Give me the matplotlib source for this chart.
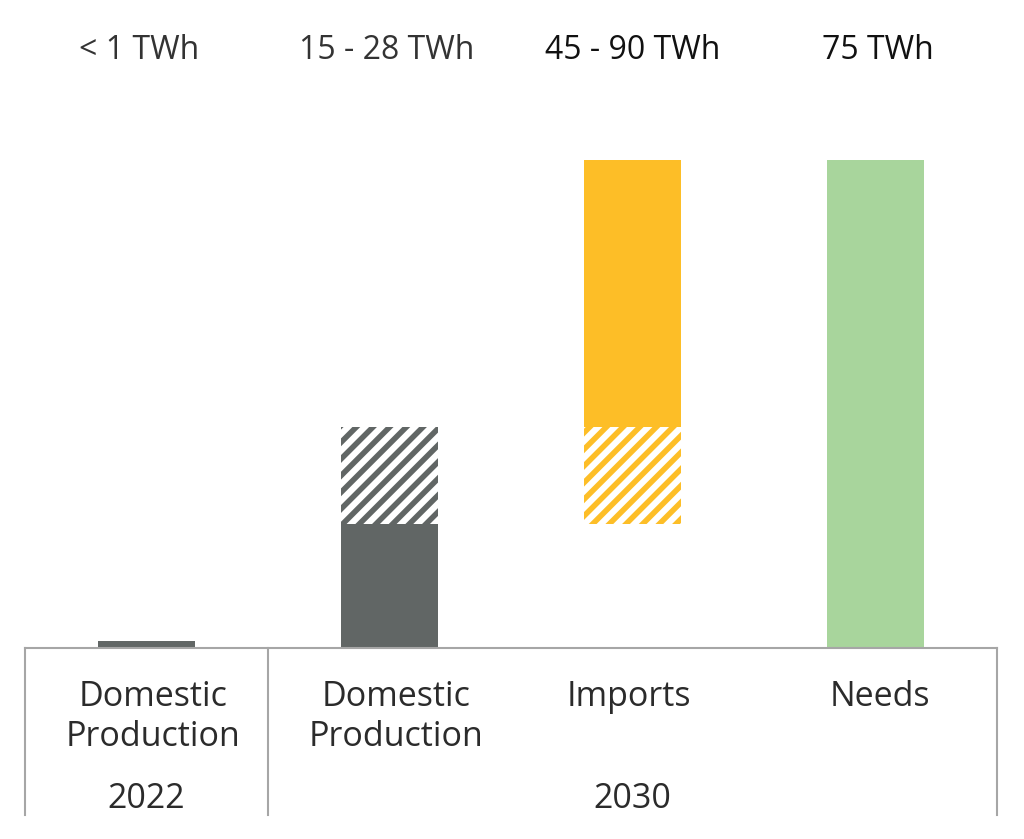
import matplotlib.pyplot as plt
from matplotlib.lines import Line2D

plt.rcParams['font.family'] = ['Open Sans', 'DejaVu Sans']
plt.rcParams['hatch.linewidth'] = 4

# data (TWh)
categories = ["Domestic\nProduction", "Domestic\nProduction", "Imports", "Needs"]
range_labels = ["< 1 TWh", "15 - 28 TWh", "45 - 90 TWh", "75 TWh"]
years = ["2022", "2030"]
solid_base = [0, 0, 34, 0]
solid_height = [1.1, 19, 41, 75]
hatch_base = [0, 19, 19, 0]
hatch_height = [0, 15, 15, 0]

grey = '#616665'
yellow = '#fdbe27'
green = '#a8d59c'
colors = [grey, grey, yellow, green]
label_colors = ['#333333', '#333333', '#111111', '#111111']

fig = plt.figure(figsize=(10.24, 8.39), dpi=100)
fig.set_facecolor('white')
ax = fig.add_axes([25 / 1024, 1 - 648 / 839, 972 / 1024, (648 - 160) / 839])

x = list(range(len(categories)))
ax.bar(x, solid_height, bottom=solid_base, width=0.4, color=colors, linewidth=0)
for i in x:
    if hatch_height[i] > 0:
        ax.bar(i, hatch_height[i], bottom=hatch_base[i], width=0.4,
               facecolor='white', edgecolor=colors[i], hatch='//', linewidth=0)

ax.set_xlim(-0.5, 3.5)
ax.set_ylim(0, 75)
for s in ['top', 'left', 'right']:
    ax.spines[s].set_visible(False)
ax.spines['bottom'].set_color('#a6a6a6')
ax.spines['bottom'].set_linewidth(1.5)
ax.set_xticks([])
ax.set_yticks([])

# vertical separators below the axis
for xv in [-0.5, 0.5, 3.5]:
    ax.add_line(Line2D([xv, xv], [0, -25.7], color='#a6a6a6', lw=1.5, clip_on=False))

trans = ax.get_xaxis_transform()
cat_shift = [0.025, 0.025, -0.015, 0.02]
for i, lab in enumerate(categories):
    for j, line in enumerate(lab.split('\n')):
        ax.text(i + cat_shift[i], -0.1189 - 0.082 * j, line, transform=trans,
                ha='center', va='baseline', fontsize=24.5, color='#2b2b2b')
top_shift = [-0.03, -0.01, 0, 0.01]
for i, lab in enumerate(range_labels):
    ax.text(i + top_shift[i], 1.207, lab, transform=trans, ha='center',
            va='baseline', fontsize=23, color=label_colors[i])
ax.text(0, -0.3279, years[0], transform=trans, ha='center', va='baseline',
        fontsize=24.5, color='#2b2b2b')
ax.text(2, -0.3279, years[1], transform=trans, ha='center', va='baseline',
        fontsize=24.5, color='#2b2b2b')

fig.savefig('out.png', dpi=100, facecolor='white')
